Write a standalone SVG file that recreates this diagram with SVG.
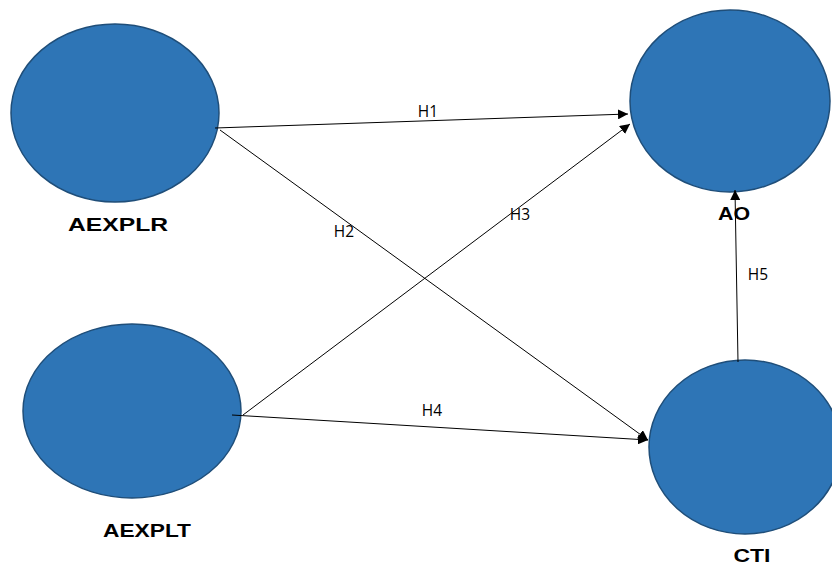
<svg xmlns="http://www.w3.org/2000/svg" width="832" height="567" viewBox="0 0 832 567">
<defs>
<style>
.node{fill:#2E75B6;stroke:#1F4E79;stroke-width:1.5}
.lbl{font-family:"Liberation Sans",Arial,sans-serif;font-weight:bold;font-size:18px;fill:#000;text-anchor:middle}
.h{font-family:"Open Sans","DejaVu Sans",sans-serif;font-size:15.5px;fill:#000;text-anchor:middle}
.e{stroke:#000;stroke-width:1;fill:none;marker-end:url(#arr)}
</style>
<marker id="arr" viewBox="0 0 10 10" refX="10" refY="5" markerWidth="10" markerHeight="10" markerUnits="userSpaceOnUse" orient="auto">
<path d="M0,0 L10,5 L0,10 Z" fill="#000"/>
</marker>
</defs>
<rect width="832" height="567" fill="#fff"/>
<g id="AEXPLR">
<ellipse class="node" cx="115" cy="113" rx="104" ry="89"/>
<text class="lbl" x="118" y="231" textLength="100" lengthAdjust="spacingAndGlyphs">AEXPLR</text>
</g>
<g id="AEXPLT">
<ellipse class="node" cx="132" cy="411" rx="109" ry="87"/>
<text class="lbl" x="147" y="537" textLength="88" lengthAdjust="spacingAndGlyphs">AEXPLT</text>
</g>
<g id="AO">
<ellipse class="node" cx="730" cy="101" rx="100" ry="91"/>
<text class="lbl" x="734" y="220" textLength="32" lengthAdjust="spacingAndGlyphs">AO</text>
</g>
<g id="CTI">
<ellipse class="node" cx="745" cy="447" rx="96" ry="87"/>
<text class="lbl" x="752" y="562" textLength="37" lengthAdjust="spacingAndGlyphs">CTI</text>
</g>
<g id="connectors">
<line class="e" x1="215" y1="128" x2="628" y2="114"/>
<line class="e" x1="220" y1="130" x2="648" y2="440"/>
<line class="e" x1="243" y1="415" x2="630" y2="124"/>
<line class="e" x1="232" y1="415" x2="648" y2="440"/>
<line class="e" x1="738" y1="362" x2="735" y2="190"/>
<text class="h" x="428" y="117">H1</text>
<text class="h" x="344" y="237">H2</text>
<text class="h" x="520" y="220">H3</text>
<text class="h" x="432" y="416">H4</text>
<text class="h" x="758" y="280">H5</text>
</g>
</svg>
